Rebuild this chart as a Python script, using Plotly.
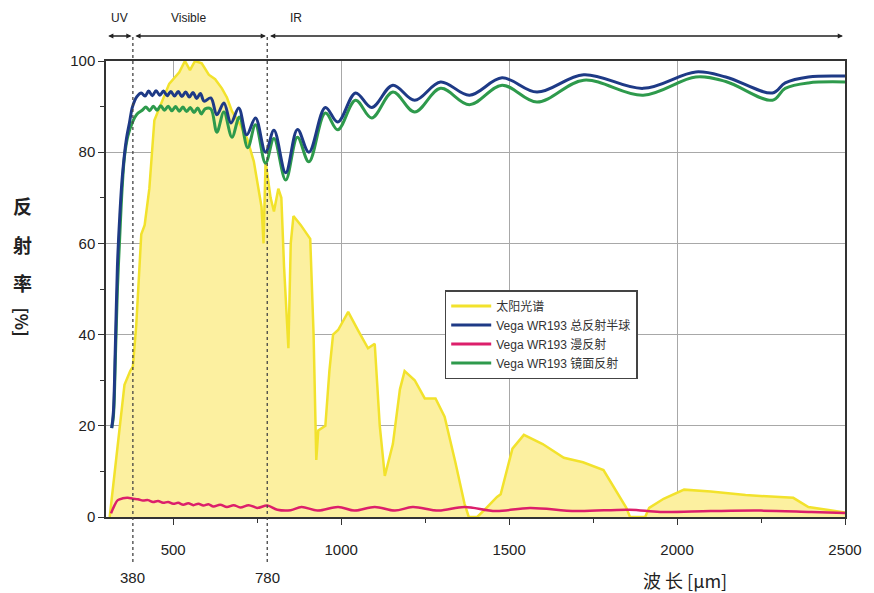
import plotly.graph_objects as go

# ---------------- data ----------------
solar_x = [311, 330, 355, 372, 380, 390, 405, 415, 429, 444, 465, 488, 518, 535, 550, 565,
           585, 606, 625, 645, 660, 675, 700, 720, 740, 755, 763, 769, 775, 790, 800, 813,
           822, 830, 843, 850, 858, 880, 908, 918, 926, 932, 953, 965, 976, 991, 1021, 1050,
           1080, 1100, 1115, 1130, 1154, 1175, 1189, 1219, 1249, 1281, 1308, 1340, 1367, 1380,
           1405, 1426, 1464, 1475, 1510, 1544, 1600, 1663, 1720, 1781, 1849, 1860, 1905, 1917,
           1960, 2021, 2100, 2204, 2346, 2391, 2450, 2500]
solar_y = [0, 12, 29, 32, 33, 42, 62, 64, 72, 87, 91, 95, 97.5, 100, 98, 100,
           99.5, 97, 96, 94, 92, 89, 86, 83, 78, 72, 68, 60, 78, 70, 67, 72,
           70, 55, 37, 60, 66, 64, 61, 40, 12.5, 19, 20, 32, 40, 41, 45, 41,
           37, 38, 20, 9, 16, 28, 32, 30, 26, 26, 22, 12, 3, 0,
           0, 1.5, 4.4, 5, 15, 18, 16, 13, 12, 10.3, 2, 0, 0, 2,
           4, 6, 5.6, 4.8, 4.2, 2.2, 1.5, 1]

total_x = [317, 322, 328, 334, 341, 349, 361, 370, 379, 392, 405, 416, 427, 438, 449, 460,
           471, 482, 493, 504, 515, 526, 537, 548, 559, 570, 581, 592, 612, 630, 651, 672,
           695, 719, 745, 775, 800, 835, 870, 904, 953, 990, 1043, 1091, 1154, 1219, 1296,
           1382, 1479, 1583, 1722, 1899, 2056, 2145, 2284, 2322, 2391, 2500]
total_y = [19.5, 23, 38, 55, 66, 75, 83, 86.5, 90, 92.2, 93, 92.3, 93.4, 92.4, 93.5, 92.5,
           93.4, 92.4, 93.3, 92.3, 93.3, 92.2, 93.2, 92.1, 93.1, 91.8, 92.9, 91.2, 91.9, 88.2, 90.8, 86.4,
           89.7, 83.8, 87.5, 80, 84.8, 75.5, 85, 80, 89.8, 86.6, 93, 89.8, 94.7, 91.4, 95.4,
           92.5, 96.3, 93.2, 97, 94, 97.6, 96.5, 93, 95.2, 96.5, 96.7]

specular_x = [317, 322, 328, 334, 340, 348, 355, 365, 379, 392, 408, 419, 430, 441, 452, 463,
              474, 485, 496, 507, 518, 529, 540, 551, 562, 573, 584, 595, 612, 630, 651, 675,
              697, 722, 745, 775, 800, 835, 870, 904, 953, 990, 1043, 1091, 1154, 1219, 1296,
              1382, 1479, 1583, 1722, 1899, 2056, 2145, 2284, 2322, 2391, 2500]
specular_y = [19.5, 22, 35, 50, 60, 72, 79, 83.5, 86.6, 88.3, 89.2, 89.9, 89.1, 90.1, 89.2, 90.2,
              89.2, 90.1, 89.1, 90.0, 89.0, 89.9, 88.9, 89.8, 88.7, 89.7, 88.4, 89.5, 89.5, 84.4, 88.8, 83.3,
              87.7, 81, 86, 77.6, 83, 73.9, 83.3, 77.9, 88.6, 84.9, 91.4, 87.5, 93.2, 88.8, 94,
              90.4, 94.7, 91, 95.8, 92.5, 96.5, 95.5, 91.4, 94, 95.2, 95.4]

diffuse_x = [315, 325, 335, 350, 365, 380, 395, 410, 425, 440, 455, 470, 485, 500, 515, 530,
             545, 560, 575, 590, 605, 620, 640, 660, 680, 700, 725, 750, 780, 810, 850, 882,
             930, 991, 1040, 1100, 1160, 1213, 1290, 1367, 1460, 1562, 1700, 1858, 1950, 2100,
             2250, 2400, 2500]
diffuse_y = [0.8, 2.5, 3.7, 4.1, 4.2, 4.0, 3.9, 3.6, 3.7, 3.3, 3.5, 3.1, 3.3, 2.9, 3.1, 2.7,
             3.0, 2.6, 2.9, 2.5, 2.8, 2.3, 2.7, 2.2, 2.6, 2.1, 2.6, 2.0, 2.5, 1.6, 1.5, 2.2,
             1.4, 2.2, 1.4, 2.2, 1.4, 2.2, 1.4, 2.2, 1.3, 2.0, 1.3, 1.6, 1.1, 1.3,
             1.4, 1.1, 0.9]

legend_names = ["太阳光谱", "Vega WR193 总反射半球", "Vega WR193 漫反射", "Vega WR193 镜面反射"]
x_ticks = [500, 1000, 1500, 2000, 2500]
y_ticks = [0, 20, 40, 60, 80, 100]
region_marks = [380, 780]
region_names = ["UV", "Visible", "IR"]

YELLOW = "#F2E22C"
YELLOW_FILL = "#FCF0A0"
BLUE = "#1E3A86"
PINK = "#DC1F6B"
GREEN = "#2E9A4C"
SANS = "Liberation Sans, Arial"
CJK = "Noto Sans CJK SC"

fig = go.Figure()

fig.add_trace(go.Scatter(x=solar_x, y=solar_y, mode="lines", fill="tozeroy",
                         fillcolor=YELLOW_FILL, line=dict(color=YELLOW, width=2.5),
                         showlegend=False, hoverinfo="skip"))
fig.add_trace(go.Scatter(x=specular_x, y=specular_y, mode="lines", line_shape="spline",
                         line=dict(color=GREEN, width=3), showlegend=False))
fig.add_trace(go.Scatter(x=total_x, y=total_y, mode="lines", line_shape="spline",
                         line=dict(color=BLUE, width=3), showlegend=False))
fig.add_trace(go.Scatter(x=diffuse_x, y=diffuse_y, mode="lines", line_shape="spline",
                         line=dict(color=PINK, width=2.5), showlegend=False))

# legend-only entries (line samples)
for name, col in zip(legend_names, [YELLOW, BLUE, PINK, GREEN]):
    fig.add_trace(go.Scatter(x=[None], y=[None], mode="lines", name=name,
                             line=dict(color=col, width=3)))

axis_common = dict(showline=True, linecolor="#333", linewidth=1.5, mirror=True,
                   showgrid=True, gridcolor="#A8A8A8", gridwidth=1, zeroline=False,
                   ticks="outside", ticklen=6, tickcolor="#333",
                   tickfont=dict(family=SANS, size=15, color="#222"))

fig.update_xaxes(range=[300, 2500], tickvals=x_ticks, ticktext=[str(v) for v in x_ticks],
                 minor=dict(dtick=250, ticks="outside", ticklen=4, tickcolor="#333", showgrid=False),
                 ticklabelstandoff=12, **axis_common)
fig.update_yaxes(range=[0, 100], tickvals=y_ticks, ticktext=[str(v) for v in y_ticks],
                 minor=dict(dtick=10, ticks="outside", ticklen=4, tickcolor="#333", showgrid=False),
                 **axis_common)

PH = 456.0  # plot height in px, for paper conversions
PW = 744.0
def py2paper(py):
    return (517 - py) / PH

# dashed region boundaries
for xv in region_marks:
    fig.add_shape(type="line", x0=xv, x1=xv, xref="x", yref="paper", y0=py2paper(562), y1=py2paper(36),
                  line=dict(color="#444", width=1.3, dash="dot"))
    fig.add_annotation(x=xv, xref="x", y=py2paper(577), yref="paper", text=str(xv), showarrow=False,
                       xanchor="center", yanchor="middle",
                       font=dict(family=SANS, size=15, color="#222"))

# top arrows
arrow_spans = [(302, 376), (383, 776), (784, 2494)]
for a, b in arrow_spans:
    fig.add_annotation(x=b, y=py2paper(36), xref="x", yref="paper", ax=a, ay=0, axref="x", ayref="pixel",
                       text="", showarrow=True, arrowhead=2, startarrowhead=2, arrowsize=0.8,
                       startarrowsize=0.8, arrowwidth=1.3, arrowcolor="#222", arrowside="end+start")
label_x = [340, 547, 867]
for lx, txt in zip(label_x, region_names):
    fig.add_annotation(x=lx, y=py2paper(18), xref="x", yref="paper", text=txt, showarrow=False,
                       xanchor="center", yanchor="middle",
                       font=dict(family=SANS, size=12, color="#222"))

# axis titles
fig.add_annotation(x=2025, xref="x", y=py2paper(580), yref="paper", text="波 长 [μm]", showarrow=False,
                   xanchor="center", yanchor="middle", font=dict(family=CJK, size=18, color="#222"))
title_x = (22 - 106) / PW
for ch, py in zip(["反", "射", "率"], [205, 244, 282]):
    fig.add_annotation(x=title_x, xref="paper", y=py2paper(py), yref="paper", text="<b>" + ch + "</b>",
                       xanchor="center", yanchor="middle",
                       showarrow=False, font=dict(family=CJK, size=19, color="#222"))
fig.add_annotation(x=title_x, xref="paper", y=py2paper(322), yref="paper", text="<b>[%]</b>",
                   xanchor="center", yanchor="middle",
                   textangle=90, showarrow=False, font=dict(family=CJK, size=17, color="#222"))

# page body adds an 8px margin; compensate so the plot area lands at x 106-850, y 61-517
fig.update_layout(
    width=866, height=585,
    margin=dict(l=98, r=24, t=53, b=76),
    paper_bgcolor="white", plot_bgcolor="white",
    legend=dict(x=(447 - 106) / PW, y=py2paper(290), xanchor="left", yanchor="top", bgcolor="white",
                bordercolor="#444", borderwidth=1.5,
                font=dict(family=SANS + ", " + CJK, size=12, color="#333"),
                tracegroupgap=0, itemwidth=40),
)

fig.write_html("out.html")
